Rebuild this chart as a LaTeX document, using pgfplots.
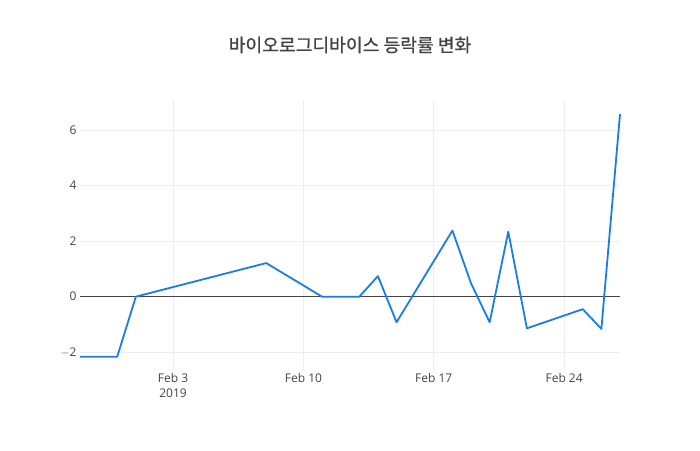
\documentclass[border=0pt]{standalone}
\usepackage{pgfplots}
\pgfplotsset{compat=1.18}
\usepackage{fontspec}
\setmainfont{Open Sans}
\newfontfamily\kr[FakeBold=0.8]{Noto Sans CJK KR}
\definecolor{txt}{HTML}{444444}
\definecolor{gridc}{HTML}{EEEEEE}
\definecolor{linec}{RGB}{25,125,230}
\begin{document}
\begin{tikzpicture}[x=1pt,y=1pt]
\useasboundingbox (-80,-80) rectangle (620,370);
\begin{axis}[
  at={(0,0)},anchor=south west,
  scale only axis,
  width=540pt,height=270pt,
  xmin=0,xmax=29,
  ymin=-2.64,ymax=7.08,
  axis line style={draw=none},
  tick style={draw=none},
  xtick={5,12,19,26},
  xticklabels={{Feb 3\\2019},{Feb 10},{Feb 17},{Feb 24}},
  xticklabel style={align=center,font=\fontsize{12}{15}\selectfont,text=txt},
  ytick={-2,0,2,4,6},
  yticklabels={$-$2,0,2,4,6},
  yticklabel style={font=\fontsize{12}{14}\selectfont,text=txt},
  /pgf/number format/assume math mode=true,
  grid=major,
  major grid style={draw=gridc,line width=0.8pt},
  clip=false,
]
\addplot[draw=txt,line width=0.8pt] coordinates {(0,0) (29,0)};
\addplot[linec,line width=1.8pt,line join=round] coordinates {
  (0,-2.16) (2,-2.16) (3,0) (10,1.21) (13,0) (14,0) (15,0)
  (16,0.74) (17,-0.92) (20,2.38) (21,0.48) (22,-0.92)
  (23,2.34) (24,-1.14) (27,-0.45) (28,-1.16) (29,6.57)
};
\end{axis}
\node[text=txt,font=\kr\fontsize{18.2}{21}\selectfont] at (270,325) {바이오로그디바이스 등락률 변화};
\end{tikzpicture}
\end{document}
